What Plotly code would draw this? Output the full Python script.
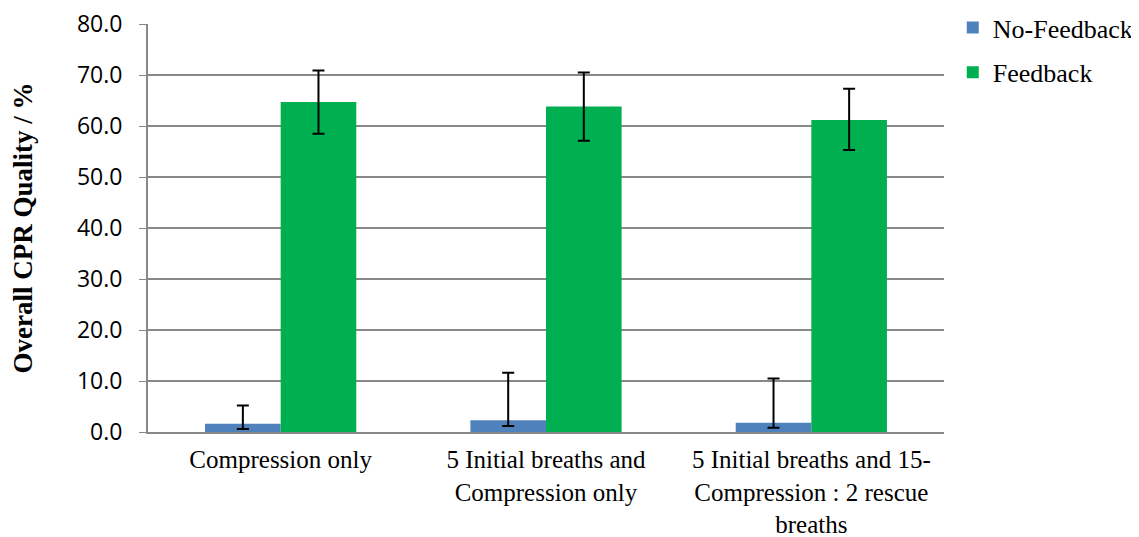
import plotly.graph_objects as go

categories = ["Compression only",
              "5 Initial breaths and<br>Compression only",
              "5 Initial breaths and 15-<br>Compression : 2 rescue<br>breaths"]
no_feedback = [1.6, 2.3, 1.8]
no_feedback_err_plus = [3.6, 9.3, 8.7]
no_feedback_err_minus = [1.0, 1.1, 0.95]
feedback = [64.7, 63.8, 61.2]
feedback_err_plus = [6.2, 6.7, 6.1]
feedback_err_minus = [6.2, 6.7, 5.9]
y_ticks = [0, 10, 20, 30, 40, 50, 60, 70, 80]

fig = go.Figure()
fig.add_trace(go.Bar(
    name="No-Feedback", x=categories, y=no_feedback, legendgroup="a",
    marker=dict(color="#4F81BD", line=dict(width=0)),
    error_y=dict(type="data", symmetric=False, array=no_feedback_err_plus,
                 arrayminus=no_feedback_err_minus, color="black", thickness=2, width=6),
))
fig.add_trace(go.Bar(
    name="Feedback", x=categories, y=feedback, legendgroup="b",
    marker=dict(color="#00B050", line=dict(width=0)),
    error_y=dict(type="data", symmetric=False, array=feedback_err_plus,
                 arrayminus=feedback_err_minus, color="black", thickness=2, width=6),
))

fig.update_layout(
    width=1139, height=537,
    margin=dict(l=140, r=203, t=16, b=113, autoexpand=False),
    paper_bgcolor="white", plot_bgcolor="white",
    barmode="group", bargap=0.43, bargroupgap=0,
    showlegend=True,
    legend=dict(x=1.011, y=1.049, xanchor="left", yanchor="top",
                font=dict(family="Liberation Serif", size=26, color="black"),
                itemsizing="constant", tracegroupgap=8, traceorder="grouped"),
    font=dict(family="Liberation Serif", color="black"),
)
fig.update_yaxes(
    range=[0, 80], tickvals=y_ticks, tickformat=".1f", automargin=False,
    ticklabeloverflow="allow",
    showgrid=True, gridcolor="#888888", gridwidth=2,
    showline=True, linecolor="#888888", linewidth=2,
    ticks="outside", ticklen=7, tickcolor="#888888", tickwidth=1,
    ticklabelstandoff=12,
    tickfont=dict(family="Open Sans", size=23, color="black"),
    title=dict(text="<b>Overall CPR Quality / %</b>",
               font=dict(family="Liberation Serif", size=27, color="black"),
               standoff=40),
    zeroline=False,
)
fig.update_xaxes(
    showline=True, linecolor="#888888", linewidth=2, automargin=False,
    ticklabeloverflow="allow",
    ticks="", ticklabelstandoff=4,
    tickfont=dict(family="Liberation Serif", size=25, color="black"),
)

fig.write_html("out.html")
